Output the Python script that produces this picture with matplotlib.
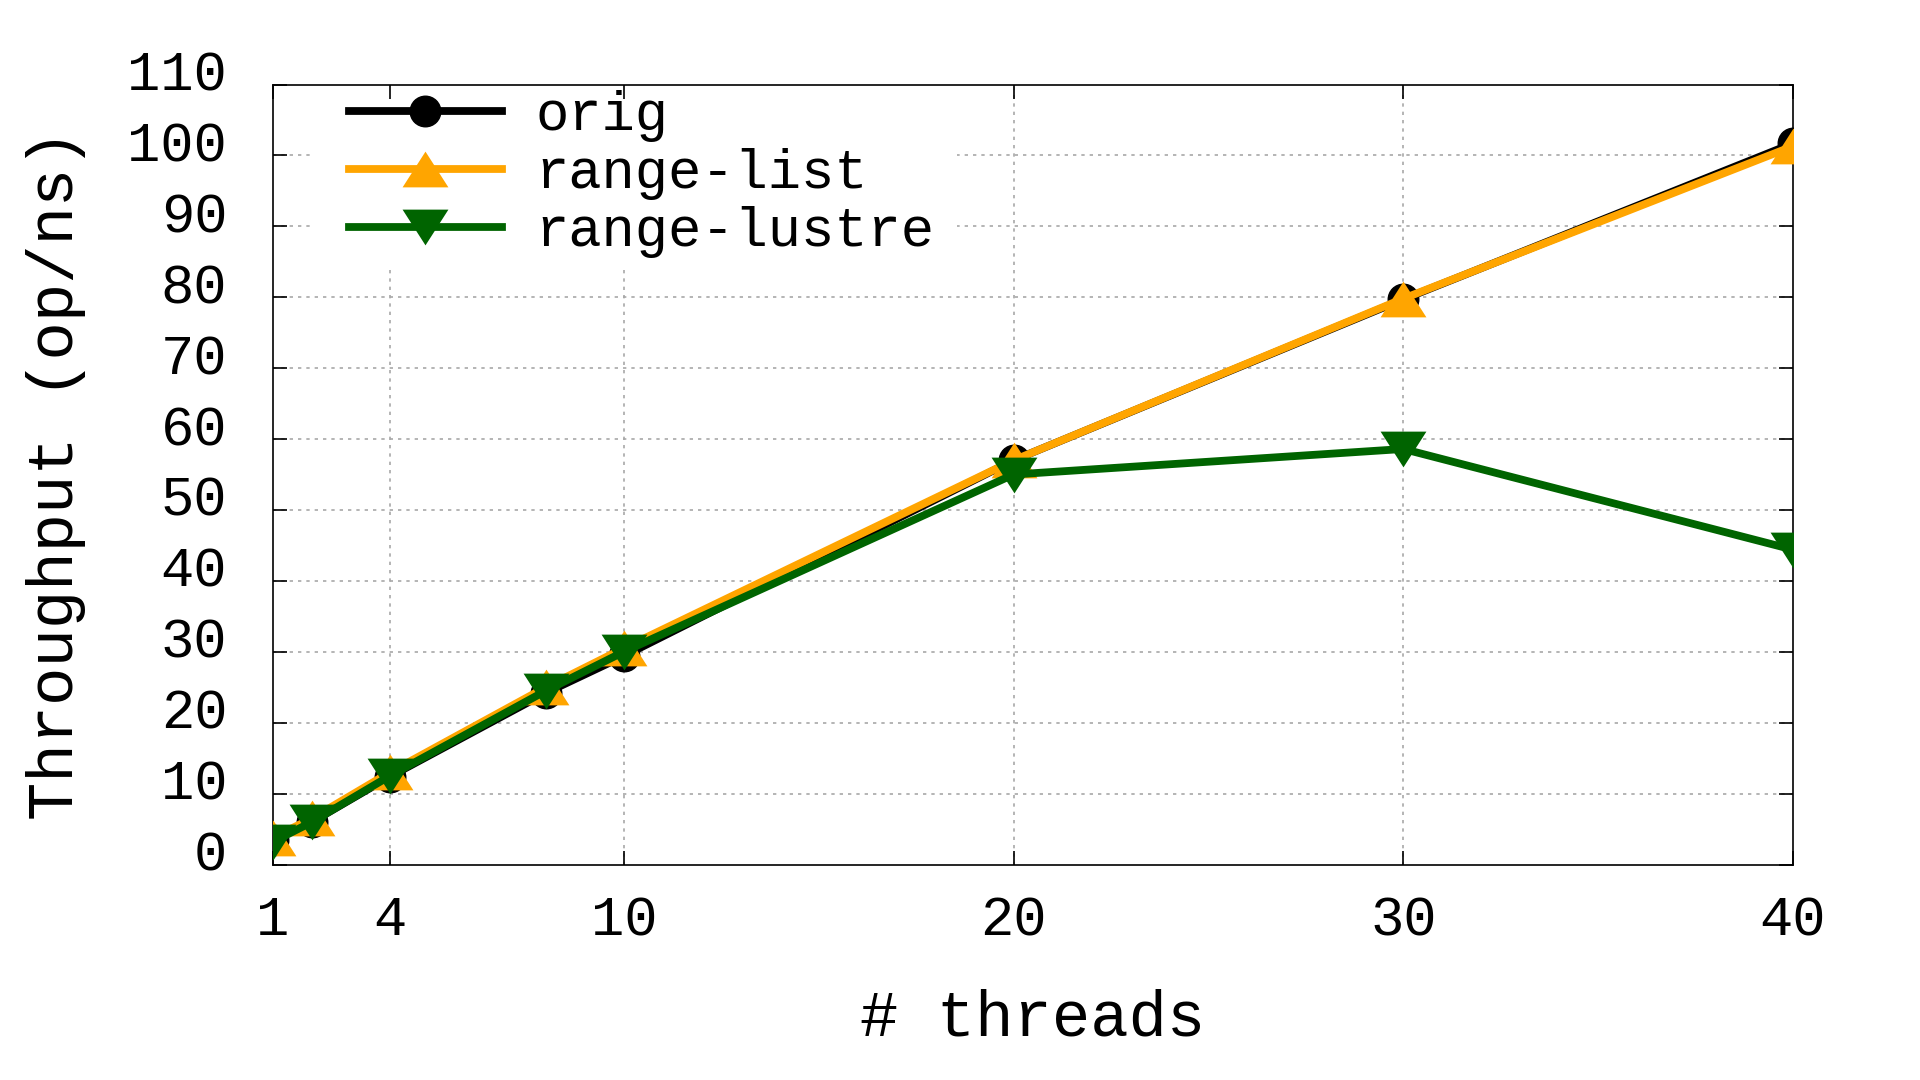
import matplotlib
matplotlib.use("Agg")
import matplotlib.pyplot as plt
import matplotlib.transforms as mtransforms
from matplotlib.patches import Rectangle

# data
threads = [1, 2, 4, 8, 10, 20, 30, 40]
orig = [3.5, 6.0, 12.4, 24.2, 29.4, 57.0, 79.7, 101.7]
range_list = [3.8, 6.5, 13.0, 25.0, 30.5, 57.0, 79.8, 101.3]
range_lustre = [3.2, 6.0, 12.5, 24.5, 30.0, 55.0, 58.6, 44.4]

xticks = [1, 4, 10, 20, 30, 40]
yticks = list(range(0, 111, 10))

plt.rcParams['font.family'] = ['Liberation Mono', 'DejaVu Sans Mono']
fs = 40

# flatter triangles, like gnuplot's
tri_up = [(-1, -0.78), (1, -0.78), (0, 0.78), (-1, -0.78)]
tri_down = [(-1, 0.78), (1, 0.78), (0, -0.78), (-1, 0.78)]

fig = plt.figure(figsize=(19.2, 10.8), dpi=100)
ax = fig.add_axes([273 / 1920, 1 - 864.5 / 1080, (1793 - 273) / 1920, (864.5 - 84.5) / 1080])

lw = 5.6
ax.plot(threads, orig, color='black', lw=lw, marker='o', ms=22, label='orig', zorder=3)
ax.plot(threads, range_list, color='#FFA500', lw=lw, marker=tri_up, ms=33, mew=0,
        label='range-list', zorder=4)
ax.plot(threads, range_lustre, color='#006400', lw=lw, marker=tri_down, ms=33, mew=0,
        label='range-lustre', zorder=5)

ax.set_xlim(1, 40)
ax.set_ylim(0, 110)
ax.set_xticks(xticks)
ax.set_yticks(yticks)
ax.tick_params(direction='in', length=10, width=1.2, top=True, right=True, labelsize=fs)
ax.tick_params(axis='x', pad=22)
ax.tick_params(axis='y', pad=33)
for sp in ax.spines.values():
    sp.set_linewidth(1.2)

# gnuplot-style dotted grid, kept under the legend box
grid_kw = dict(color='#a8a8a8', linestyle=(0, (2, 3)), lw=1.2, zorder=1)
for y in yticks[1:-1]:
    ax.axhline(y, **grid_kw)
for x in xticks[1:-1]:
    ax.axvline(x, **grid_kw)

# gnuplot draws y tick labels a bit above the tick
shift = mtransforms.ScaledTranslation(0, 0.14, fig.dpi_scale_trans)
for lab in ax.get_yticklabels():
    lab.set_transform(lab.get_transform() + shift)

ax.set_xlabel('# threads', fontsize=46, labelpad=30)
ax.set_ylabel('Throughput (op/ns)', fontsize=46, labelpad=30)

ax.add_patch(Rectangle((0.0263, 0.766), 0.424, 0.234, transform=ax.transAxes,
                       facecolor='white', edgecolor='none', zorder=1.2))
leg = ax.legend(loc='upper left', bbox_to_anchor=(0.05, 0.993), fontsize=fs, frameon=False,
                handlelength=2.75, labelspacing=0.112, handletextpad=0.6,
                borderaxespad=0.0, borderpad=0.0)
leg.set_zorder(6)

fig.savefig('out.png', dpi=100)
